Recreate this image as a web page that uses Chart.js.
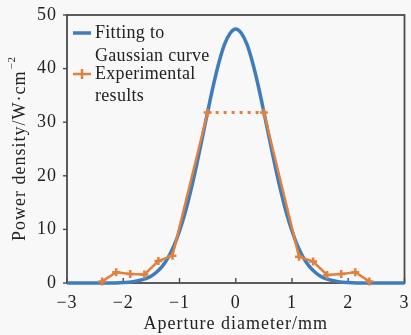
<!DOCTYPE html>
<html>
<head>
<meta charset="utf-8">
<script src="https://cdn.jsdelivr.net/npm/chart.js@4/dist/chart.umd.min.js"></script>
<style>
html,body{margin:0;padding:0;background:#f8f8f8;}
#wrap{position:relative;width:411px;height:335px;}
</style>
</head>
<body>
<div id="wrap"><canvas id="c" width="411" height="335"></canvas></div>
<script>
// Fitted Gaussian curve
const gaussX = [-3, -2.2, -2.0, -1.9, -1.8, -1.7, -1.6, -1.5, -1.4, -1.3, -1.2, -1.1, -1.0, -0.9, -0.8, -0.7, -0.6, -0.5, -0.4, -0.3, -0.2, -0.1, 0,
                0.1, 0.2, 0.3, 0.4, 0.5, 0.6, 0.7, 0.8, 0.9, 1.0, 1.1, 1.2, 1.3, 1.4, 1.5, 1.6, 1.7, 1.8, 1.9, 2.0, 2.2, 3];
const gaussY = [0, 0, 0.1, 0.15, 0.3, 0.5, 0.8, 1.3, 2.1, 3.2, 4.8, 6.9, 9.7, 13.1, 17.2, 21.8, 26.8, 31.9, 36.8, 41.1, 44.5, 46.6, 47.4,
                46.6, 44.5, 41.1, 36.8, 31.9, 26.8, 21.8, 17.2, 13.1, 9.7, 6.9, 4.8, 3.2, 2.1, 1.3, 0.8, 0.5, 0.3, 0.15, 0.1, 0, 0];
// Experimental results
const expX = [-2.375, -2.125, -1.875, -1.625, -1.375, -1.125, -0.5, 0.5, 1.125, 1.375, 1.625, 1.875, 2.125, 2.375];
const expY = [0.3, 2.0, 1.7, 1.6, 4.1, 5.1, 31.8, 31.8, 4.9, 4.0, 1.5, 1.7, 2.0, 0.3];
// Axis ticks
const xTicks = [-3, -2, -1, 0, 1, 2, 3];
const yTicks = [0, 10, 20, 30, 40, 50];
const seriesNames = [["Fitting to", "Gaussian curve"], ["Experimental", "results"]];
const yTitleMain = 'Power density/W\u00b7cm';
const yTitleSup = '\u22122';
const xTitle = 'Aperture diameter/mm';

const BLUE = '#3f7cbc';
const ORANGE = '#e0813f';
const FRAME = '#4a4a4a';
const TEXT = '#222222';
const FONT = '"Liberation Serif", "Times New Roman", serif';

const framePlugin = {
  id: 'frame',
  beforeDraw(chart) {
    chart.ctx.letterSpacing = '1px';
  },
  beforeDatasetsDraw(chart) {
    const {ctx, chartArea: a, scales} = chart;
    ctx.save();
    ctx.strokeStyle = FRAME;
    ctx.lineWidth = 1.8;
    ctx.strokeRect(a.left, a.top, a.right - a.left, a.bottom - a.top);
    ctx.lineWidth = 1.4;
    xTicks.forEach(v => {
      const px = scales.x.getPixelForValue(v);
      ctx.beginPath(); ctx.moveTo(px, a.bottom); ctx.lineTo(px, a.bottom - 5); ctx.stroke();
    });
    yTicks.forEach(v => {
      const py = scales.y.getPixelForValue(v);
      ctx.beginPath(); ctx.moveTo(a.left, py); ctx.lineTo(a.left - 4, py); ctx.stroke();
    });
    ctx.restore();
  },
  afterDraw(chart) {
    const {ctx, chartArea: a} = chart;
    ctx.save();
    ctx.letterSpacing = '0.3px';
    ctx.font = '18px ' + FONT;
    ctx.fillStyle = TEXT;
    ctx.textBaseline = 'middle';
    ctx.textAlign = 'left';
    const lx = a.left + 6, tx = a.left + 28;
    const rows = [a.top + 18, a.top + 41, a.top + 59, a.top + 81];
    ctx.strokeStyle = BLUE; ctx.lineWidth = 3.5;
    ctx.beginPath(); ctx.moveTo(lx, rows[0]); ctx.lineTo(lx + 18, rows[0]); ctx.stroke();
    ctx.fillText(seriesNames[0][0], tx, rows[0]);
    ctx.fillText(seriesNames[0][1], tx, rows[1]);
    ctx.strokeStyle = ORANGE; ctx.lineWidth = 2.5;
    ctx.beginPath(); ctx.moveTo(lx, rows[2]); ctx.lineTo(lx + 18, rows[2]); ctx.stroke();
    ctx.beginPath(); ctx.moveTo(lx + 9, rows[2] - 5); ctx.lineTo(lx + 9, rows[2] + 5); ctx.stroke();
    ctx.fillText(seriesNames[1][0], tx, rows[2]);
    ctx.fillText(seriesNames[1][1], tx, rows[3]);

    // y-axis title with small superscript
    ctx.letterSpacing = '1px';
    const cy = (a.top + a.bottom) / 2;
    ctx.translate(19, cy);
    ctx.rotate(-Math.PI / 2);
    ctx.font = '18px ' + FONT;
    const w1 = ctx.measureText(yTitleMain).width;
    ctx.font = '11px ' + FONT;
    const w2 = ctx.measureText(yTitleSup).width;
    const start = -(w1 + w2) / 2;
    ctx.font = '18px ' + FONT;
    ctx.textBaseline = 'alphabetic';
    ctx.fillText(yTitleMain, start, 6);
    ctx.font = '11px ' + FONT;
    ctx.fillText(yTitleSup, start + w1 + 1, -4);
    ctx.restore();
  }
};

const minus = v => String(v).replace('-', '\u2212');

new Chart(document.getElementById('c'), {
  type: 'line',
  data: {
    datasets: [
      {
        label: 'Experimental results',
        data: expX.map((x, i) => ({x, y: expY[i]})),
        borderColor: ORANGE,
        backgroundColor: ORANGE,
        borderWidth: 2.5,
        pointStyle: 'cross',
        pointRadius: 4,
        pointBorderWidth: 2.5,
        pointHoverRadius: 4,
        tension: 0,
        clip: false,
        segment: {
          borderDash: c => (c.p0DataIndex === 6 ? [3, 5] : undefined),
          borderWidth: c => (c.p0DataIndex === 6 ? 3 : 2.5)
        },
        order: 0
      },
      {
        label: 'Fitting to Gaussian curve',
        data: gaussX.map((x, i) => ({x, y: gaussY[i]})),
        borderColor: BLUE,
        borderWidth: 3.5,
        pointRadius: 0,
        cubicInterpolationMode: 'monotone',
        clip: false,
        order: 1
      }
    ]
  },
  options: {
    responsive: false,
    animation: false,
    events: [],
    layout: {padding: {top: 15, right: 2, left: 0, bottom: 0}},
    plugins: {legend: {display: false}, tooltip: {enabled: false}},
    scales: {
      x: {
        type: 'linear', min: -3, max: 3,
        afterBuildTicks: s => { s.ticks = xTicks.map(v => ({value: v})); },
        grid: {display: false},
        border: {display: false},
        ticks: {color: TEXT, font: {family: FONT, size: 18}, padding: 1, maxRotation: 0, autoSkip: false, callback: v => minus(v)},
        title: {display: true, text: xTitle, color: TEXT, font: {family: FONT, size: 18}, padding: {top: 7, bottom: 0}},
        afterFit: s => { s.height = 52; }
      },
      y: {
        min: 0, max: 50,
        afterBuildTicks: s => { s.ticks = yTicks.map(v => ({value: v})); },
        grid: {display: false},
        border: {display: false},
        ticks: {color: TEXT, font: {family: FONT, size: 18}, padding: 2},
        title: {display: false},
        afterFit: s => { s.width = 67; }
      }
    }
  },
  plugins: [framePlugin]
});
</script>
</body>
</html>
